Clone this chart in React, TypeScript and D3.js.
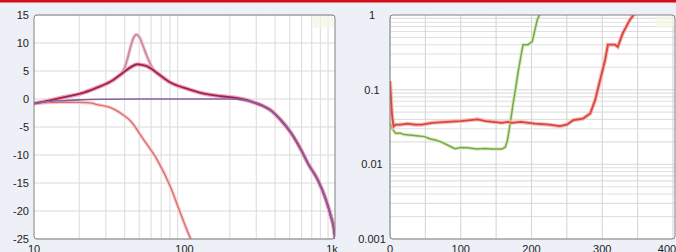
import React, { useEffect, useRef } from "react";
import * as d3 from "d3";

// left chart: frequency response (Hz, dB)
const dbTicks = [15, 10, 5, 0, -5, -10, -15, -20, -25];
const freqTicks = [10, 100, 1000];
const freqLabels = ["10", "100", "1k"];
const freqMinor = [20, 30, 40, 50, 60, 70, 80, 90, 200, 300, 400, 500, 600, 700, 800, 900];

const lowpassCurve: [number, number][] = [
  [10, -0.8], [12, -0.5], [15, -0.3], [20, -0.15], [30, -0.05], [50, 0], [100, 0], [200, 0],
  [250, -0.2], [288, -0.6], [330, -1.2], [374, -2], [436, -3.75], [509, -6], [593, -9],
  [661, -11.5], [770, -14.5], [871, -18], [940, -21], [985, -23.4], [1000, -25],
];
const totalCurve: [number, number][] = [
  [10, -0.8], [12, -0.4], [15.6, 0.3], [20, 0.9], [26, 2], [33.6, 3.4], [39, 4.7], [44, 5.7],
  [48.6, 6.2], [52, 6.1], [57, 5.8], [66, 4.6], [80, 3.0], [105, 1.8], [128, 1.1], [174, 0.5],
  [220, 0.2], [260, -0.2], [288, -0.6], [330, -1.2], [374, -2], [436, -3.75], [509, -6],
  [593, -9], [661, -11.5], [770, -14.5], [871, -18], [940, -21], [985, -23.4], [1000, -25],
];
const peakCurve: [number, number][] = [
  [10, -0.8], [12, -0.4], [15.6, 0.3], [20, 0.9], [26, 2], [33.6, 3.4], [38, 4.5], [40, 5.6],
  [42, 7.4], [44, 9.5], [46, 11], [48, 11.5], [50, 11.1], [53, 9.5], [56, 7.8], [59, 6.4],
  [62, 5.3], [66, 4.6], [80, 3.0], [105, 1.8],
];
const subCurve: [number, number][] = [
  [10, -0.8], [15, -0.6], [20, -0.6], [23.6, -0.7], [26.3, -1.0], [32, -1.5], [37, -2.4],
  [43.7, -3.9], [53.3, -7.2], [66, -10.9], [80.7, -15.7], [94, -20.4], [110, -25], [120, -27],
];

// right chart: distortion vs level (linear x, log y)
const levelTicks = [0, 100, 200, 300, 400];
const levelGrid = [0, 50, 100, 150, 200, 250, 300, 350, 400];
const ratioTicks = [1, 0.1, 0.01, 0.001];
const ratioLabels = ["1", "0.1", "0.01", "0.001"];

const redSeries: [number, number][] = [
  [0, 0.13], [1, 0.09], [2, 0.06], [3, 0.045], [5, 0.032], [8, 0.034], [15, 0.034], [25, 0.035],
  [35, 0.034], [45, 0.034], [60, 0.036], [80, 0.037], [100, 0.038], [124, 0.04], [135, 0.038],
  [158, 0.036], [166, 0.037], [172, 0.036], [185, 0.037], [205, 0.035], [225, 0.034],
  [240, 0.0325], [250, 0.034], [259, 0.039], [273, 0.041], [283, 0.048], [290, 0.073],
  [297, 0.135], [304, 0.25], [308, 0.4], [318, 0.4], [322, 0.375], [329, 0.57], [339, 0.86],
  [346, 1.05],
];
const greenSeries: [number, number][] = [
  [1, 0.035], [3, 0.03], [8, 0.026], [15, 0.026], [20, 0.025], [31, 0.0246], [40, 0.024],
  [49, 0.0235], [56, 0.022], [64, 0.0212], [72, 0.02], [82, 0.018], [88, 0.0168], [92, 0.0162],
  [100, 0.0168], [110, 0.0167], [122, 0.016], [134, 0.0163], [145, 0.016], [158, 0.016],
  [163, 0.017], [166, 0.021], [170, 0.036], [174, 0.065], [178, 0.11], [181, 0.17], [185, 0.28],
  [188, 0.4], [195, 0.4], [201, 0.44], [208, 0.85], [212, 1.05],
];

const FONT = "'Liberation Sans', Arial, sans-serif";

export default function App() {
  const ref = useRef<SVGSVGElement>(null);

  useEffect(() => {
    const svg = d3.select(ref.current);
    svg.selectAll("*").remove();

    svg.append("rect").attr("width", 676).attr("height", 252).attr("fill", "#edf0f6");
    svg.append("rect").attr("x", 0).attr("y", 0).attr("width", 676).attr("height", 2.5).attr("fill", "#d40d18");

    const defs = svg.append("defs");

    // ---------- left chart ----------
    const x1 = d3.scaleLog().domain([10, 1000]).range([34, 335]);
    const y1 = d3.scaleLinear().domain([-25, 15]).range([239, 15]);

    defs.append("clipPath").attr("id", "clipL")
      .append("rect").attr("x", 34).attr("y", 15).attr("width", 301).attr("height", 224);

    const left = svg.append("g");
    left.append("rect").attr("x", 34).attr("y", 15).attr("width", 301).attr("height", 224)
      .attr("rx", 3).attr("fill", "#ffffff");

    // grid
    left.selectAll(".vminor").data(freqMinor).join("line")
      .attr("x1", d => x1(d)).attr("x2", d => x1(d)).attr("y1", 15).attr("y2", 239)
      .attr("stroke", "#e0e0e0").attr("stroke-width", 1.2);
    left.selectAll(".hgrid").data(dbTicks).join("line")
      .attr("x1", 34).attr("x2", 335).attr("y1", d => y1(d)).attr("y2", d => y1(d))
      .attr("stroke", "#dadada").attr("stroke-width", 1.2);

    const lineL = d3.line<[number, number]>()
      .x(d => x1(d[0])).y(d => y1(d[1])).curve(d3.curveMonotoneX);

    const plotL = left.append("g").attr("clip-path", "url(#clipL)");
    // salmon low-pass with halo
    plotL.append("path").attr("d", lineL(subCurve)).attr("fill", "none")
      .attr("stroke", "#f9cdd0").attr("stroke-width", 3.5);
    plotL.append("path").attr("d", lineL(subCurve)).attr("fill", "none")
      .attr("stroke", "#d8706f").attr("stroke-width", 1.4);
    // peak curve
    plotL.append("path").attr("d", lineL(peakCurve)).attr("fill", "none")
      .attr("stroke", "#f3c3d3").attr("stroke-width", 3.5);
    plotL.append("path").attr("d", lineL(peakCurve)).attr("fill", "none")
      .attr("stroke", "#c48aa6").attr("stroke-width", 1.6);
    // total curve
    plotL.append("path").attr("d", lineL(totalCurve)).attr("fill", "none")
      .attr("stroke", "#f2a4bb").attr("stroke-width", 4.2);
    plotL.append("path").attr("d", lineL(totalCurve)).attr("fill", "none")
      .attr("stroke", "#9c2448").attr("stroke-width", 1.9);
    // flat low-pass
    plotL.append("path").attr("d", lineL(lowpassCurve)).attr("fill", "none")
      .attr("stroke", "#8362a6").attr("stroke-width", 1.6);

    left.append("rect").attr("x", 313).attr("y", 16).attr("width", 21).attr("height", 12)
      .attr("rx", 3).attr("fill", "#f5f7e4").attr("opacity", 0.7);

    left.append("rect").attr("x", 34).attr("y", 15).attr("width", 301).attr("height", 224)
      .attr("rx", 3).attr("fill", "none").attr("stroke", "#808080").attr("stroke-width", 1);

    left.selectAll(".ylab").data(dbTicks).join("text")
      .attr("x", 29).attr("y", d => y1(d) + 4).attr("text-anchor", "end")
      .attr("font-family", FONT).attr("font-size", 11).attr("fill", "#222")
      .text(d => String(d));
    left.selectAll(".xlab").data(freqTicks).join("text")
      .attr("x", (d, i) => x1(d) - (i === 2 ? 3 : 0)).attr("y", 253).attr("text-anchor", "middle")
      .attr("font-family", FONT).attr("font-size", 11).attr("fill", "#222")
      .text((d, i) => freqLabels[i]);

    // ---------- right chart ----------
    const x2 = d3.scaleLinear().domain([0, 400]).range([390, 673]);
    const y2 = d3.scaleLog().domain([0.001, 1]).range([239, 15]);

    defs.append("clipPath").attr("id", "clipR")
      .append("rect").attr("x", 390).attr("y", 15).attr("width", 285).attr("height", 224);

    const right = svg.append("g");
    right.append("rect").attr("x", 390).attr("y", 15).attr("width", 285).attr("height", 224)
      .attr("rx", 3).attr("fill", "#ffffff");

    const logGrid: number[] = [];
    [0.001, 0.01, 0.1].forEach(dec => {
      for (let k = 1; k <= 9; k++) logGrid.push(dec * k);
    });
    right.selectAll(".hgrid").data(logGrid).join("line")
      .attr("x1", 390).attr("x2", 675).attr("y1", d => y2(d)).attr("y2", d => y2(d))
      .attr("stroke", "#e0e0e0").attr("stroke-width", 1.1);
    right.selectAll(".vgrid").data(levelGrid).join("line")
      .attr("x1", d => x2(d)).attr("x2", d => x2(d)).attr("y1", 15).attr("y2", 239)
      .attr("stroke", "#d6d6d6").attr("stroke-width", 1.1);

    const lineR = d3.line<[number, number]>().x(d => x2(d[0])).y(d => y2(d[1]));
    const plotR = right.append("g").attr("clip-path", "url(#clipR)");
    plotR.append("path").attr("d", lineR(greenSeries)).attr("fill", "none")
      .attr("stroke", "#d6ebbe").attr("stroke-width", 3.5);
    plotR.append("path").attr("d", lineR(greenSeries)).attr("fill", "none")
      .attr("stroke", "#78a84a").attr("stroke-width", 1.5);
    plotR.append("path").attr("d", lineR(redSeries)).attr("fill", "none")
      .attr("stroke", "#f8b8b8").attr("stroke-width", 4);
    plotR.append("path").attr("d", lineR(redSeries)).attr("fill", "none")
      .attr("stroke", "#d8473c").attr("stroke-width", 1.8);

    right.append("rect").attr("x", 655).attr("y", 16).attr("width", 19).attr("height", 12)
      .attr("rx", 3).attr("fill", "#f5f7e4").attr("opacity", 0.7);

    right.append("rect").attr("x", 390).attr("y", 15).attr("width", 285).attr("height", 224)
      .attr("rx", 3).attr("fill", "none").attr("stroke", "#808080").attr("stroke-width", 1);

    right.selectAll(".ylab").data(ratioTicks).join("text")
      .attr("x", 372).attr("y", d => y2(d) + 4).attr("text-anchor", "middle")
      .attr("font-family", FONT).attr("font-size", 11).attr("fill", "#222")
      .text((d, i) => ratioLabels[i]);
    right.selectAll(".xlab").data(levelTicks).join("text")
      .attr("x", d => x2(d) - (d === 400 ? 6 : 0)).attr("y", 253).attr("text-anchor", "middle")
      .attr("font-family", FONT).attr("font-size", 11).attr("fill", "#222")
      .text(d => String(d));
  }, []);

  return (
    <div style={{ position: "fixed", left: 0, top: 0 }}>
      <svg ref={ref} width={676} height={252} style={{ display: "block" }} />
    </div>
  );
}
